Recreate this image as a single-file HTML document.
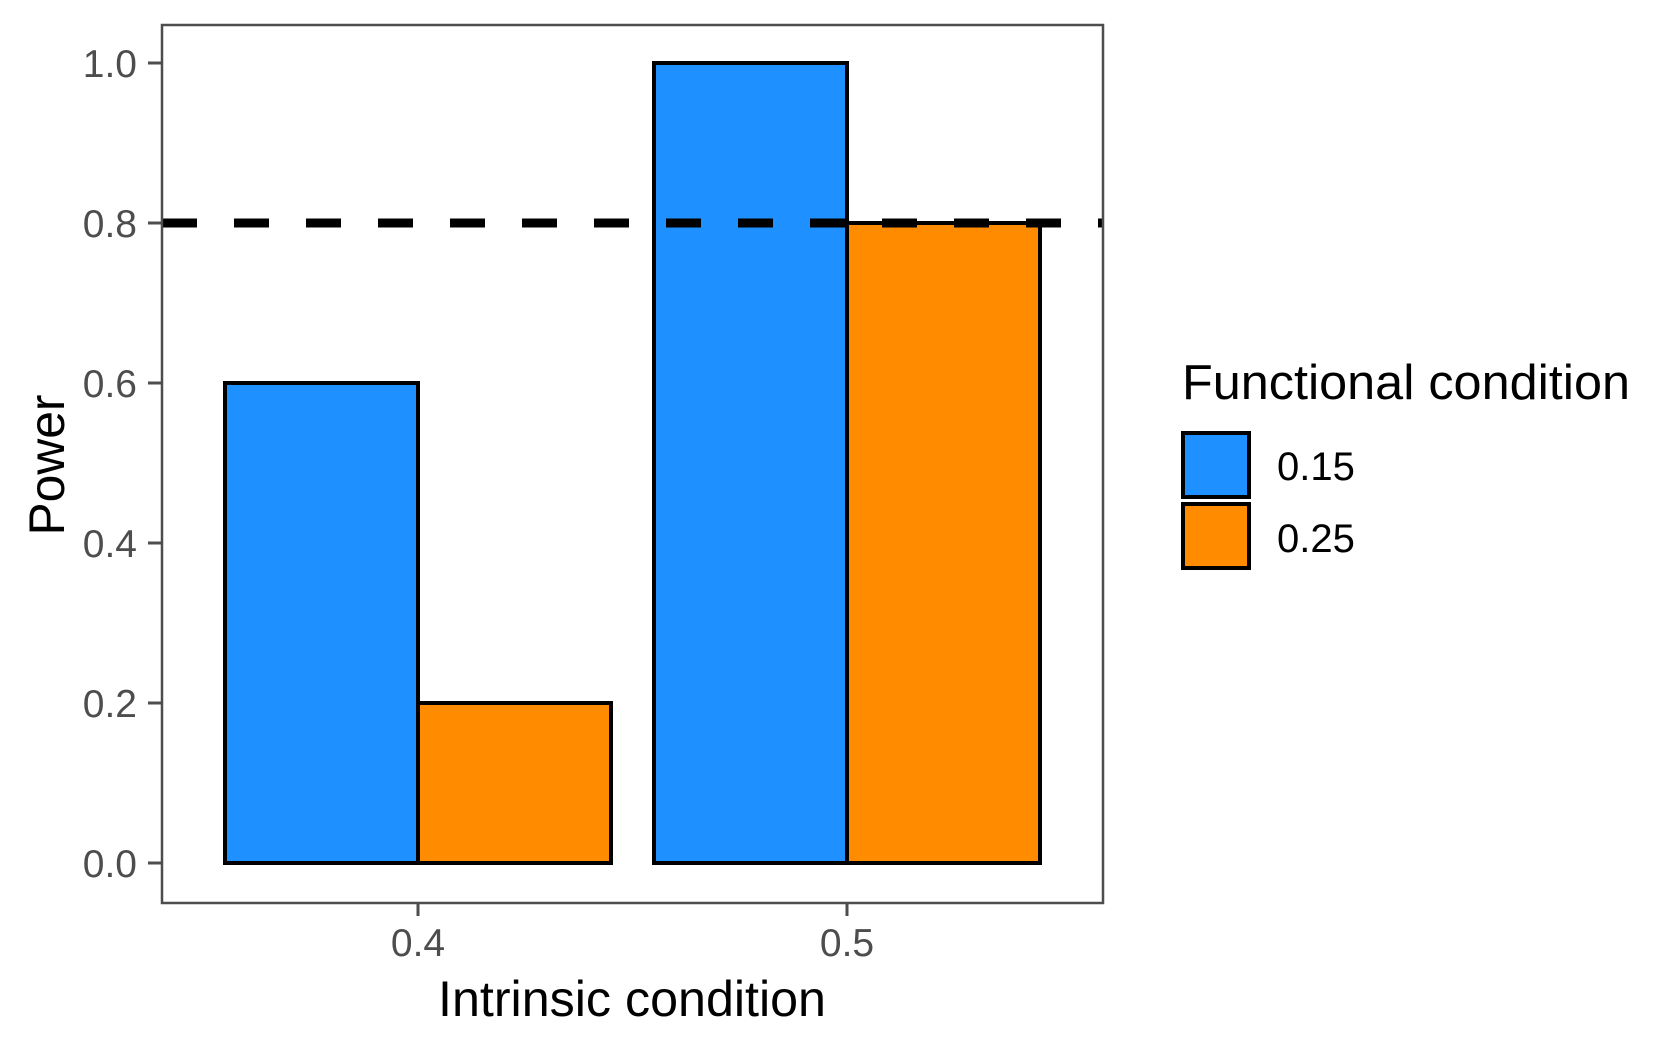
<!DOCTYPE html>
<html><head><meta charset="utf-8"><style>html,body{margin:0;padding:0;background:#fff}svg{display:block}text{font-family:"Liberation Sans",Arial,sans-serif}</style></head>
<body>
<svg id="chart" width="1680" height="1050" viewBox="0 0 1680 1050" xmlns="http://www.w3.org/2000/svg">
<rect x="0" y="0" width="1680" height="1050" fill="#fff"/>
<g id="bars"></g>
<g id="axes"></g>
<rect x="162" y="25" width="941" height="878" fill="none" stroke="#4d4d4d" stroke-width="2.5"/>
<text x="632" y="1016" font-size="50" textLength="388" lengthAdjust="spacingAndGlyphs" text-anchor="middle" fill="#000">Intrinsic condition</text>
<text transform="translate(64,465) rotate(-90)" font-size="50" textLength="141" lengthAdjust="spacingAndGlyphs" text-anchor="middle" fill="#000">Power</text>
<g>
<text x="1182" y="399" font-size="49" textLength="448" lengthAdjust="spacingAndGlyphs" fill="#000">Functional condition</text>
<rect x="1183" y="433" width="66" height="64" fill="#1E90FF" stroke="#000" stroke-width="4"/>
<rect x="1183" y="504" width="66" height="64" fill="#FF8C00" stroke="#000" stroke-width="4"/>
<text x="1277" y="480" font-size="40" fill="#000">0.15</text>
<text x="1277" y="552" font-size="40" fill="#000">0.25</text>
</g>
</svg>
<script>
const categories = ["0.4", "0.5"];
const seriesNames = ["0.15", "0.25"];
const series015 = [0.6, 1.0];
const series025 = [0.2, 0.8];
const yTicks = [0.0, 0.2, 0.4, 0.6, 0.8, 1.0];
const yTickLabels = ["0.0", "0.2", "0.4", "0.6", "0.8", "1.0"];
const threshold = 0.8;

const NS = "http://www.w3.org/2000/svg";
const colors = ["#1E90FF", "#FF8C00"];
const barW = 193;
function xScale(i){ return 418 + i * 429; }
function yScale(v){ return 863 - v * 800; }

const barsG = document.getElementById('bars');
const allSeries = [series015, series025];
allSeries.forEach(function(vals, s){
  vals.forEach(function(v, i){
    const r = document.createElementNS(NS, 'rect');
    const cx = xScale(i);
    const x0 = s === 0 ? cx - barW : cx;
    r.setAttribute('x', x0);
    r.setAttribute('y', yScale(v));
    r.setAttribute('width', barW);
    r.setAttribute('height', yScale(0) - yScale(v));
    r.setAttribute('fill', colors[s]);
    r.setAttribute('stroke', '#000');
    r.setAttribute('stroke-width', '4');
    
    
    barsG.appendChild(r);
  });
});

const axesG = document.getElementById('axes');
yTicks.forEach(function(t, k){
  const y = yScale(t);
  const ln = document.createElementNS(NS, 'line');
  ln.setAttribute('x1', 148); ln.setAttribute('x2', 162);
  ln.setAttribute('y1', y); ln.setAttribute('y2', y);
  ln.setAttribute('stroke', '#4d4d4d'); ln.setAttribute('stroke-width', '3');
  
  
  axesG.appendChild(ln);
  const tx = document.createElementNS(NS, 'text');
  tx.setAttribute('x', 137); tx.setAttribute('y', y + 14);
  tx.setAttribute('text-anchor', 'end'); tx.setAttribute('font-size', '39');
  tx.setAttribute('fill', '#4d4d4d');
  tx.textContent = yTickLabels[k];
  
  
  axesG.appendChild(tx);
});
categories.forEach(function(c, i){
  const x = xScale(i);
  const ln = document.createElementNS(NS, 'line');
  ln.setAttribute('x1', x); ln.setAttribute('x2', x);
  ln.setAttribute('y1', 903); ln.setAttribute('y2', 916);
  ln.setAttribute('stroke', '#4d4d4d'); ln.setAttribute('stroke-width', '3');
  
  
  axesG.appendChild(ln);
  const tx = document.createElementNS(NS, 'text');
  tx.setAttribute('x', x); tx.setAttribute('y', 956);
  tx.setAttribute('text-anchor', 'middle'); tx.setAttribute('font-size', '39');
  tx.setAttribute('fill', '#4d4d4d');
  tx.textContent = c;
  
  
  axesG.appendChild(tx);
});
const hl = document.createElementNS(NS, 'line');
hl.setAttribute('x1', 162); hl.setAttribute('x2', 1103);
hl.setAttribute('y1', yScale(threshold)); hl.setAttribute('y2', yScale(threshold));
hl.setAttribute('stroke', '#000'); hl.setAttribute('stroke-width', '9');
hl.setAttribute('stroke-dasharray', '35 37');


axesG.appendChild(hl);
</script>
</body></html>
